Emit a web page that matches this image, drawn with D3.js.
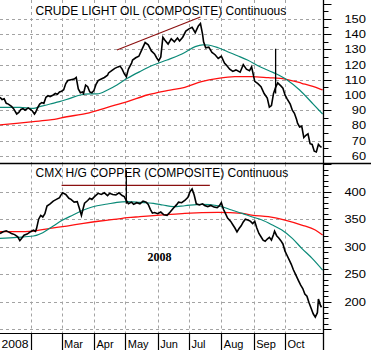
<!DOCTYPE html>
<html><head><meta charset="utf-8">
<script src="https://cdn.jsdelivr.net/npm/d3@7/dist/d3.min.js"></script>
<style>html,body{margin:0;padding:0;background:#fff;}svg{display:block;}</style>
</head><body>
<svg id="chart" width="371" height="350"></svg>
<script>
// ---- data (day of year 2008, value) ----
const monthNames = ["2008", "", "Mar", "Apr", "May", "Jun", "Jul", "Aug", "Sep", "Oct"];
const monthDays  = [1, 32, 61, 92, 122, 153, 183, 214, 245, 275];

const oilTicks = [60, 70, 80, 90, 100, 110, 120, 130, 140, 150];
const copperTicks = [200, 250, 300, 350, 400];

const oilTitle = "CRUDE LIGHT OIL (COMPOSITE) Continuous";
const copperTitle = "CMX H/G COPPER (COMPOSITE) Continuous";
const yearNote = "2008";

const oilCloses = [[2,98.5],[4,97],[6,97.5],[8,94.5],[10,94],[12,93],[13,92.5],[15,91],[18,87.5],[20,88.5],
[22,90.5],[24,91],[26,90],[29,91.5],[31,90.5],[33,89.5],[35,87.5],[36,88.5],[38,91.5],[40,94],
[42,95],[44,94.5],[46,98.5],[48,99.5],[50,99],[53,100],[55,101],[57,100.5],[59,102],[61,102.5],
[63,103.5],[65,107.5],[67,109.5],[70,110],[73,110.5],[75,111.5],[77,104],[79,101.5],[81,102],[82,101],
[84,106.5],[86,105.5],[88,102],[90,101.5],[92,103],[94,107],[96,109.5],[99,110.5],[102,111.5],[105,113],
[106,114.5],[109,116],[112,117.5],[115,118.5],[117,119],[119,117],[121,114],[123,112],[125,117],[128,121],
[129,123],[132,124.5],[135,125.5],[138,130],[141,134.5],[144,133],[147,129],[150,127],[152,124.5],[154,122.5],
[156,125],[158,138],[160,136],[163,133.5],[166,137],[169,135],[172,137.5],[174,135.5],[177,138],[180,142],
[183,143.5],[186,144.5],[189,141],[192,145.5],[194,147],[196,140],[197,135],[199,131],[202,131.5],[205,128],
[208,126.5],[211,124],[214,125.5],[217,121],[219,119.5],[222,117],[225,115.5],[228,116.5],[232,115],[235,120],
[238,117],[241,116],[243,118.5],[246,109],[249,107.5],[252,105.5],[255,101],[258,98],[260,92],[262,93],
[264,101],[266,105],[268,108],[271,106],[273,104.5],[275,100],[277,97.5],[280,94],[282,90],[284,88],
[286,84],[287,81.5],[289,79],[291,79.5],[293,72],[295,73.5],[297,74.5],[299,68],[301,67.5],[303,63],
[305,62.5],[307,67.5],[309,66],[310,65.5]];
const oilSpikes = [[266, 101, 130.5]]; // day, low, high

const oilAvgShort = [[2,91.9],[21,91.9],[34,91.2],[40,92.3],[50,94.1],[59,95.6],[69,97.8],[79,100],[88,100.7],[95,100.7],
[105,103.3],[114,106.6],[124,111],[136,115.4],[149,119.7],[162,123],[174,126.3],[179,128],[189,131.8],[196,133],
[201,132.9],[211,131.1],[220,128.5],[230,125.7],[239,123],[251,118.6],[264,114.7],[277,109.9],[289,103.3],[302,94],[311,87.5]];
const oilAvgLong = [[2,80.3],[34,82.5],[50,83.6],[66,85.7],[85,87.9],[105,91.9],[124,95.6],[143,100],[162,102.9],[179,105],
[195,108.8],[211,111],[227,112.1],[243,112.1],[259,111.4],[275,110.5],[291,107.7],[307,104.4],[311,103.3]];
const oilTrend = [[114,129.6],[194,151.3]];

const copperCloses = [[2,324],[5,327],[8,329],[11,326],[13,324],[16,322],[19,318],[21,311],[23,316],[25,321],
[28,323],[31,327],[34,330],[36,328],[37,333],[39,350],[41,357],[43,354],[45,360],[47,374],
[50,378],[53,383],[56,386],[59,389],[60,393],[62,398],[65,395],[68,388],[70,386],[73,381],
[76,382],[78,370],[80,357],[82,372],[83,379],[86,384],[88,388],[90,386],[93,392],[96,397],
[99,395],[102,398],[105,393],[107,397],[110,395],[113,394],[116,398],[119,393],[121,391],[123,384],
[125,378],[128,381],[130,377],[133,380],[136,378],[139,383],[142,381],[144,377],[146,368],[148,361],
[150,362],[153,360],[156,363],[159,358],[162,357],[165,363],[168,370],[171,376],[173,381],[176,380],
[179,384],[182,390],[184,400],[186,405],[188,394],[190,378],[193,376],[196,378],[198,375],[201,373],
[204,375],[207,372],[210,371],[212,374],[214,380],[216,368],[218,360],[220,352],[223,346],[225,340],
[227,334],[229,327],[231,333],[233,338],[235,345],[237,350],[240,348],[242,346],[244,342],[246,346],
[248,334],[250,324],[252,318],[254,312],[256,310],[258,314],[260,317],[262,312],[264,322],[265,328],
[267,320],[269,316],[271,311],[273,305],[275,292],[277,284],[279,276],[281,268],[283,258],[285,250],
[287,242],[288,238],[290,230],[292,224],[294,214],[296,210],[298,198],[300,188],[302,178],[304,172],
[306,180],[307,205],[309,193],[310,190]];
const copperSpikes = [[123, 378, 439]];

const copperAvgShort = [[2,315.2],[18,317],[34,319.4],[43,325.5],[53,337.6],[62,348.5],[72,357.6],[82,366.7],[91,372.7],[105,377.6],
[114,380.6],[124,381.8],[136,380.6],[149,378.8],[158,375.8],[168,372.7],[179,374.5],[195,377],[211,374.5],[224,366.7],
[234,360.6],[243,354.5],[253,348.5],[263,339.4],[272,330.3],[282,315.2],[291,297],[301,278.8],[311,257.6]];
const copperAvgLong = [[2,327.3],[18,327.3],[34,328.5],[50,333.3],[66,337.6],[82,342.4],[98,346.7],[114,350.3],[124,352.7],[136,354.5],
[149,356.4],[165,358.8],[179,360.6],[211,362.4],[234,360.6],[243,357.6],[259,354.5],[275,348.5],[291,339.4],[304,330.3],[311,321.2]];
const copperTrend = [[61,411.5],[203,411.5]];

// ---- layout ----
const W = 371, H = 350;
const plotR = 323.5, sepY = 163.5, axisY = 333.5;
const svg = d3.select("#chart");
const font = "'Liberation Sans', Arial, sans-serif";

const x = d3.scaleLinear().domain([2, 311]).range([0, 322.6]);
const yOil = d3.scaleLinear().domain([60, 150]).range([155.8, 19]);
const yCu = d3.scaleLinear().domain([200, 400]).range([301.7, 191.7]);

const defs = svg.append("defs");
defs.append("clipPath").attr("id", "clipTop").append("rect").attr("x", 0).attr("y", 0).attr("width", plotR).attr("height", sepY);
defs.append("clipPath").attr("id", "clipBot").append("rect").attr("x", 0).attr("y", sepY).attr("width", plotR).attr("height", axisY - sepY);

function panel(opts) {
  const g = svg.append("g").attr("clip-path", `url(#${opts.clip})`);
  const y = opts.y;
  g.selectAll(null).data(opts.grid).enter().append("line")
    .attr("x1", 0).attr("x2", plotR).attr("y1", d => Math.round(y(d)) + 0.5).attr("y2", d => Math.round(y(d)) + 0.5)
    .attr("stroke", "#a3a3a3").attr("stroke-dasharray", "3,3");
  g.selectAll(null).data(monthDays.slice(1)).enter().append("line")
    .attr("x1", d => Math.round(x(d)) + 0.5).attr("x2", d => Math.round(x(d)) + 0.5)
    .attr("y1", opts.top).attr("y2", opts.bottom)
    .attr("stroke", "#a3a3a3").attr("stroke-dasharray", "3,3");
  const line = d3.line().x(d => x(d[0])).y(d => y(d[1]));
  const smooth = d3.line().x(d => x(d[0])).y(d => y(d[1])).curve(d3.curveMonotoneX);
  g.append("path").attr("d", smooth(opts.longAvg)).attr("fill", "none").attr("stroke", "#ff1010").attr("stroke-width", 1.3);
  g.append("path").attr("d", smooth(opts.shortAvg)).attr("fill", "none").attr("stroke", "#0b8a78").attr("stroke-width", 1.2);
  g.append("path").attr("d", line(opts.trend)).attr("fill", "none").attr("stroke", "#8b1010").attr("stroke-width", 1.2);
  g.append("path").attr("d", line(opts.closes)).attr("fill", "none").attr("stroke", "#000").attr("stroke-width", 1.6).attr("stroke-linejoin", "miter");
  g.selectAll(null).data(opts.spikes).enter().append("line")
    .attr("x1", d => x(d[0])).attr("x2", d => x(d[0])).attr("y1", d => y(d[1])).attr("y2", d => y(d[2]))
    .attr("stroke", "#000").attr("stroke-width", 1.3);
  svg.append("text").attr("x", 35.5).attr("y", opts.titleY).attr("font-family", font).attr("font-size", 12)
    .attr("fill", "#000").text(opts.title);
  svg.selectAll(null).data(opts.ticks).enter().append("line")
    .attr("x1", plotR).attr("x2", d => plotR + (d % opts.major === 0 ? 8 : 5))
    .attr("y1", d => Math.round(y(d)) + 0.5).attr("y2", d => Math.round(y(d)) + 0.5)
    .attr("stroke", "#000");
  svg.selectAll(null).data(opts.labels).enter().append("text")
    .attr("x", 366).attr("y", d => y(d) + 4)
    .attr("text-anchor", "end").attr("font-family", font).attr("font-size", 11)
    .attr("textLength", d => String(d).length * 7.4 - 0.6).attr("lengthAdjust", "spacingAndGlyphs")
    .text(d => d);
}

panel({clip: "clipTop", y: yOil, top: 0, bottom: sepY, grid: oilTicks,
  closes: oilCloses, spikes: oilSpikes, shortAvg: oilAvgShort, longAvg: oilAvgLong, trend: oilTrend,
  title: oilTitle, titleY: 15, ticks: d3.range(55, 161, 5), major: 10, labels: oilTicks});
panel({clip: "clipBot", y: yCu, top: sepY, bottom: axisY, grid: [150, 200, 250, 300, 350, 400],
  closes: copperCloses, spikes: copperSpikes, shortAvg: copperAvgShort, longAvg: copperAvgLong, trend: copperTrend,
  title: copperTitle, titleY: 177, ticks: d3.range(150, 451, 10), major: 50, labels: copperTicks});

svg.append("text").attr("x", 147.5).attr("y", 260.7).attr("font-family", "'Liberation Serif', 'Times New Roman', serif")
  .attr("font-weight", "bold").attr("font-size", 12).text(yearNote);

svg.append("line").attr("x1", 0).attr("x2", W).attr("y1", sepY).attr("y2", sepY).attr("stroke", "#000").attr("stroke-width", 1.5);
svg.append("line").attr("x1", 0).attr("x2", plotR).attr("y1", axisY).attr("y2", axisY).attr("stroke", "#000").attr("stroke-width", 1.2);
svg.append("line").attr("x1", plotR).attr("x2", plotR).attr("y1", 0).attr("y2", H).attr("stroke", "#000").attr("stroke-width", 1.3);

svg.selectAll(null).data(monthDays.slice(1)).enter().append("line")
  .attr("x1", d => Math.round(x(d)) + 0.5).attr("x2", d => Math.round(x(d)) + 0.5)
  .attr("y1", axisY).attr("y2", H).attr("stroke", "#000").attr("stroke-width", 1.2);
svg.selectAll(null).data(monthDays).enter().append("text")
  .attr("x", d => Math.max(1, x(d) + 2.5)).attr("y", 348.3)
  .attr("font-family", font).attr("font-size", 11)
  .attr("textLength", (d, i) => monthNames[i] === "2008" ? 27 : null)
  .attr("lengthAdjust", "spacingAndGlyphs")
  .text((d, i) => monthNames[i]);
</script>
</body></html>
